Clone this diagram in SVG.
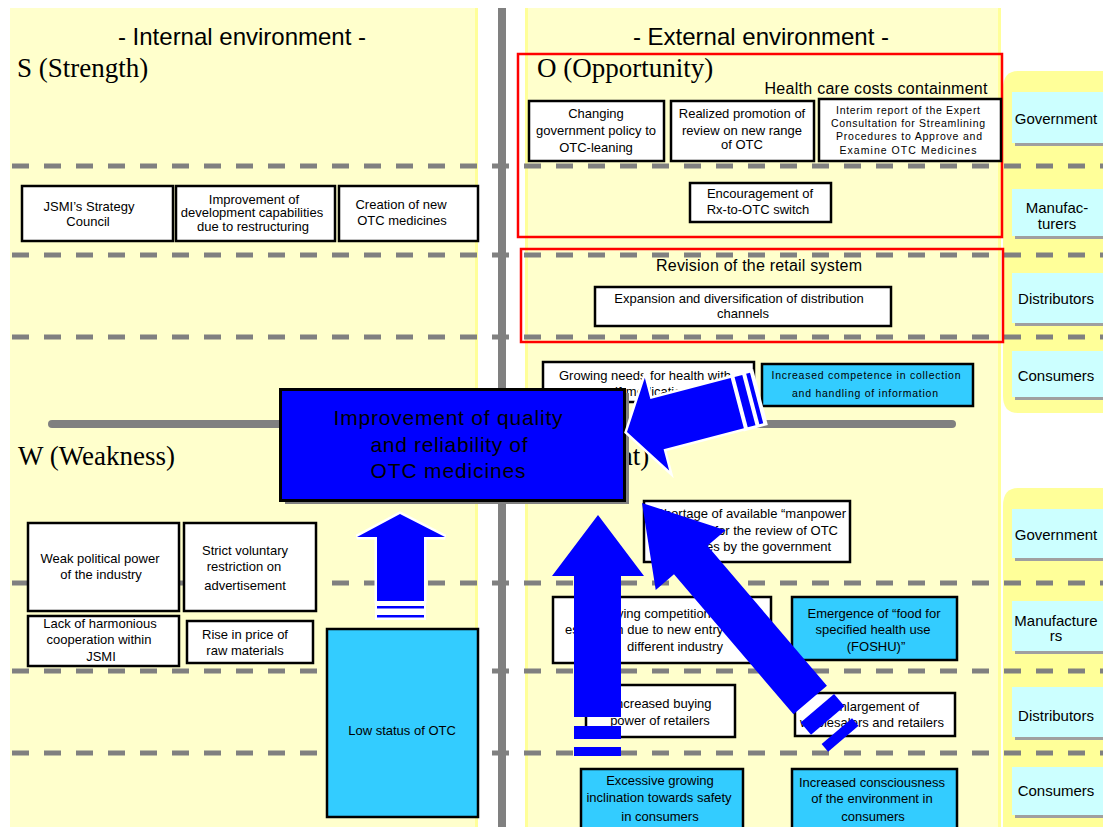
<svg xmlns="http://www.w3.org/2000/svg" width="1103" height="827" viewBox="0 0 1103 827">
<style>
.panel{fill:#FFFFCC}
.edge{fill:#FFFF99}
.tab{fill:#FFFF99}
.dash{stroke:#808080;stroke-width:5;stroke-dasharray:17 15;fill:none}
.box{fill:#FFFFFF;stroke:#000;stroke-width:2.5}
.cbox{fill:#33CCFF;stroke:#000;stroke-width:2.5}
.red{fill:none;stroke:#FF0000;stroke-width:2.5}
.lab{fill:#CCFFFF}
.shd{fill:#A0A0A0}
.t{font-family:"Liberation Sans",Arial,sans-serif;font-size:13px;text-anchor:middle;fill:#000}
.s{font-size:10.5px}
.m{font-size:16px}
.lt{font-size:15px}
.big{font-size:21px}
.ttl{font-size:24px}
.h{font-family:"Liberation Serif","Times New Roman",serif;font-size:27px;fill:#000}
.arr{fill:#0000FF}
.wo{stroke:#FFFFFF;stroke-width:5;paint-order:stroke;stroke-linejoin:miter}
</style>
<rect x="0" y="0" width="1103" height="827" fill="#FFFFFF"/>
<g id="background">
<rect class="panel" x="10" y="8" width="468" height="819"/>
<rect class="edge" x="475" y="8" width="3" height="819"/>
<rect class="panel" x="525" y="8" width="476" height="819"/>
<rect class="edge" x="525" y="8" width="3" height="819"/>
<rect class="edge" x="998" y="8" width="3" height="819"/>
<path class="tab" d="M1003,89 Q1003,71 1018,71 L1103,71 L1103,413 L1018,413 Q1003,413 1003,396 Z"/>
<path class="tab" d="M1003,506 Q1003,488 1018,488 L1103,488 L1103,827 L1003,827 Z"/>
<g class="dash">
<line x1="12" y1="166" x2="1103" y2="166"/>
<line x1="12" y1="255" x2="1103" y2="255"/>
<line x1="12" y1="337" x2="1103" y2="337"/>
<line x1="12" y1="583" x2="1103" y2="583"/>
<line x1="12" y1="671" x2="1103" y2="671"/>
<line x1="12" y1="753" x2="1103" y2="753"/>
</g>
<rect x="498" y="8" width="8" height="819" fill="#808080"/>
<line x1="52" y1="424" x2="952" y2="424" stroke="#808080" stroke-width="8" stroke-linecap="round"/>
<rect class="red" x="518" y="54" width="484" height="183"/>
<rect class="red" x="521" y="249" width="482" height="93"/>
<text class="t ttl" x="242" y="45">- Internal environment -</text>
<text class="t ttl" x="761" y="45">- External environment -</text>
<text class="h" x="17" y="77">S (Strength)</text>
<text class="h" x="537" y="77">O (Opportunity)</text>
<text class="h" x="18" y="465">W (Weakness)</text>
<text class="h" x="538" y="465">T (Threat)</text>
<text class="t m" x="876" y="94" textLength="223">Health care costs containment</text>
<text class="t m" x="759" y="271" textLength="206">Revision of the retail system</text>
</g>
<g id="n-changing"><rect class="box" x="529" y="101" width="135" height="60"/>
<text class="t" x="596" y="118">Changing</text><text class="t" x="596" y="135">government policy to</text><text class="t" x="596" y="152">OTC-leaning</text></g>
<g id="n-realized"><rect class="box" x="671" y="101" width="143" height="60"/>
<text class="t" x="742" y="118">Realized promotion of</text><text class="t" x="742" y="135">review on new range</text><text class="t" x="742" y="149">of OTC</text></g>
<g id="n-interim"><rect class="box" x="819" y="99" width="182" height="62"/>
<text class="t s" x="908" y="114" textLength="144">Interim report of the Expert</text>
<text class="t s" x="908" y="127" textLength="154">Consultation for Streamlining</text>
<text class="t s" x="909" y="140" textLength="146">Procedures to Approve and</text>
<text class="t s" x="908" y="154" textLength="137">Examine OTC Medicines</text></g>
<g id="n-rx"><rect class="box" x="690" y="183" width="141" height="39"/>
<text class="t" x="760" y="198">Encouragement of</text><text class="t" x="758" y="214">Rx-to-OTC switch</text></g>
<g id="n-expansion"><rect class="box" x="595" y="287" width="296" height="39"/>
<text class="t" x="739" y="303">Expansion and diversification of distribution</text><text class="t" x="743" y="318">channels</text></g>
<g id="n-growing"><rect class="box" x="543" y="362" width="211" height="40"/>
<text class="t" x="645" y="380">Growing needs for health with</text><text class="t" x="645" y="396">self-medication</text></g>
<g id="n-competence"><rect class="cbox" x="762" y="364" width="211" height="42"/>
<text class="t s" x="866" y="379" textLength="189">Increased competence in collection</text>
<text class="t s" x="865" y="397" textLength="146">and handling of information</text></g>
<g id="n-jsmi"><rect class="box" x="22" y="186" width="151" height="55"/>
<text class="t" x="89" y="211">JSMI’s Strategy</text><text class="t" x="88" y="226">Council</text></g>
<g id="n-dev"><rect class="box" x="176" y="186" width="159" height="55"/>
<text class="t" x="254" y="204">Improvement of</text><text class="t" x="252" y="217">development capabilities</text><text class="t" x="253" y="231">due to restructuring</text></g>
<g id="n-creation"><rect class="box" x="339" y="186" width="139" height="55"/>
<text class="t" x="401" y="209">Creation of new</text><text class="t" x="402" y="225">OTC medicines</text></g>
<g id="n-weak"><rect class="box" x="28" y="523" width="151" height="88"/>
<text class="t" x="100" y="563">Weak political power</text><text class="t" x="101" y="579">of the industry</text></g>
<g id="n-strict"><rect class="box" x="184" y="523" width="132" height="88"/>
<text class="t" x="245" y="555">Strict voluntary</text><text class="t" x="244" y="571">restriction on</text><text class="t" x="245" y="590">advertisement</text></g>
<g id="n-lack"><rect class="box" x="28" y="616" width="151" height="50"/>
<text class="t" x="100" y="628">Lack of harmonious</text><text class="t" x="99" y="644">cooperation within</text><text class="t" x="101" y="661">JSMI</text></g>
<g id="n-rise"><rect class="box" x="187" y="621" width="126" height="42"/>
<text class="t" x="245" y="639">Rise in price of</text><text class="t" x="245" y="655">raw materials</text></g>
<g id="n-low"><rect class="cbox" x="327" y="629" width="151" height="188"/>
<text class="t" x="402" y="735">Low status of OTC</text></g>
<g id="n-shortage"><rect class="box" x="644" y="501" width="206" height="61"/>
<text class="t" x="846" y="518" style="text-anchor:end">Shortage of available “manpower</text>
<text class="t" x="838" y="535" style="text-anchor:end">” for the review of OTC</text>
<text class="t" x="831" y="551" style="text-anchor:end">medicines by the government</text></g>
<g id="n-intensify"><rect class="box" x="553" y="597" width="218" height="66"/>
<text class="t" x="575" y="618" style="text-anchor:start">Intensifying competition</text>
<text class="t" x="565" y="634" style="text-anchor:start">escalation due to new entry from</text>
<text class="t" x="675" y="651">different industry</text></g>
<g id="n-foshu"><rect class="cbox" x="792" y="597" width="165" height="63"/>
<text class="t" x="874" y="618">Emergence of “food for</text><text class="t" x="873" y="634">specified health use</text><text class="t" x="876" y="651">(FOSHU)”</text></g>
<g id="n-buying"><rect class="box" x="586" y="685" width="149" height="52"/>
<text class="t" x="662" y="708">Increased buying</text><text class="t" x="660" y="725">power of retailers</text></g>
<g id="n-enlarge"><rect class="box" x="795" y="693" width="160" height="43"/>
<text class="t" x="875" y="711">Enlargement of</text><text class="t" x="872" y="727">wholesalers and retailers</text></g>
<g id="n-safety"><rect class="cbox" x="581" y="769" width="162" height="62"/>
<text class="t" x="660" y="785">Excessive growing</text><text class="t" x="659" y="802">inclination towards safety</text><text class="t" x="660" y="821">in consumers</text></g>
<g id="n-env"><rect class="cbox" x="792" y="769" width="165" height="62"/>
<text class="t" x="872" y="787">Increased consciousness</text><text class="t" x="872" y="803">of the environment in</text><text class="t" x="873" y="821">consumers</text></g>
<g id="labels">
<g id="l-gov1"><rect class="shd" x="1015" y="95" width="90" height="51"/><rect class="lab" x="1012" y="92" width="91" height="51"/><text class="t lt" x="1056" y="124">Government</text></g>
<g id="l-man1"><rect class="shd" x="1015" y="192" width="90" height="47"/><rect class="lab" x="1012" y="189" width="91" height="47"/><text class="t lt" x="1057" y="213">Manufac-</text><text class="t lt" x="1057" y="229">turers</text></g>
<g id="l-dis1"><rect class="shd" x="1015" y="276" width="90" height="50"/><rect class="lab" x="1012" y="273" width="91" height="50"/><text class="t lt" x="1056" y="304">Distributors</text></g>
<g id="l-con1"><rect class="shd" x="1015" y="354" width="90" height="46"/><rect class="lab" x="1012" y="351" width="91" height="46"/><text class="t lt" x="1056" y="381">Consumers</text></g>
<g id="l-gov2"><rect class="shd" x="1015" y="512" width="90" height="49"/><rect class="lab" x="1012" y="509" width="91" height="49"/><text class="t lt" x="1056" y="540">Government</text></g>
<g id="l-man2"><rect class="shd" x="1015" y="604" width="90" height="50"/><rect class="lab" x="1012" y="601" width="91" height="50"/><text class="t lt" x="1056" y="626">Manufacture</text><text class="t lt" x="1056" y="641">rs</text></g>
<g id="l-dis2"><rect class="shd" x="1015" y="690" width="90" height="50"/><rect class="lab" x="1012" y="687" width="91" height="50"/><text class="t lt" x="1056" y="721">Distributors</text></g>
<g id="l-con2"><rect class="shd" x="1015" y="770" width="90" height="48"/><rect class="lab" x="1012" y="767" width="91" height="48"/><text class="t lt" x="1056" y="796">Consumers</text></g>
</g>
<g id="n-goal">
<rect x="285" y="393" width="344" height="111" fill="#808080"/>
<rect x="280.5" y="389.5" width="344" height="111" fill="#0000FF" stroke="#000" stroke-width="3"/>
<text class="t big" x="448" y="425" textLength="229">Improvement of quality</text>
<text class="t big" x="449" y="452" textLength="157">and reliability of</text>
<text class="t big" x="448" y="478" textLength="155">OTC medicines</text>
</g>
<g id="connectors">
<g id="a-left">
<rect x="375" y="600" width="51" height="20" fill="#FFFFFF"/>
<polygon class="arr wo" points="400,514 445,537 424,537 424,601 377,601 377,537 357,537"/>
<rect class="arr" x="377" y="606" width="47" height="2.5"/>
<rect class="arr" x="377" y="615" width="47" height="2.5"/>
</g>
<g id="a-up">
<polygon class="arr" points="598,515 644,576 621,576 621,717 574,717 574,576 552,576"/>
<rect class="arr" x="574" y="726" width="47" height="13"/>
<rect class="arr" x="574" y="747" width="47" height="9"/>
</g>
<g id="a-diag" transform="translate(642,503) rotate(-40.5)">
<polygon class="arr" points="0,0 46,75 22,75 22,259 -22,259 -22,75 -46,75"/>
<rect class="arr" x="-22" y="270" width="44" height="16"/>
<rect class="arr" x="-20" y="300" width="40" height="10"/>
</g>
<g id="a-right" transform="translate(627,432) rotate(-104.7)">
<rect x="-29" y="113" width="58" height="25" fill="#FFFFFF"/>
<polygon class="arr wo" points="0,0 48,31 26,31 26,114 -26,114 -26,31 -48,31"/>
<rect class="arr" x="-26" y="118" width="52" height="8"/>
<rect class="arr" x="-26" y="130" width="52" height="4"/>
</g>
</g>
</svg>
